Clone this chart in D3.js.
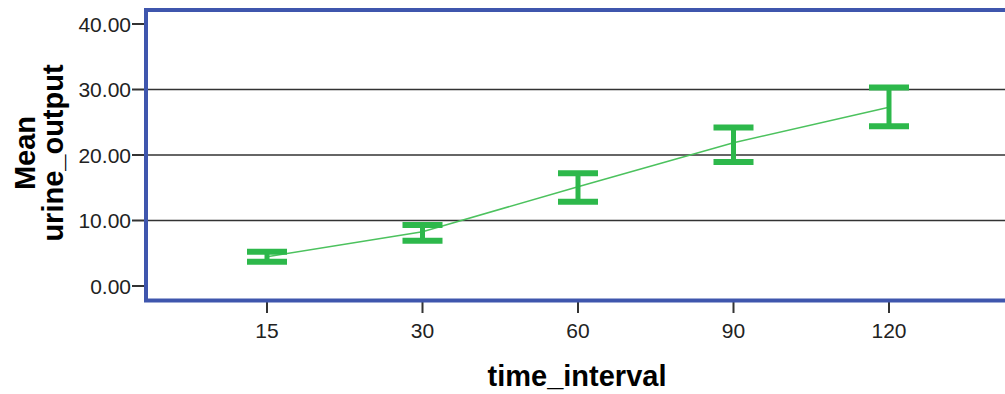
<!doctype html>
<html>
<head>
<meta charset="utf-8">
<title>Mean urine_output by time_interval</title>
<script src="https://d3js.org/d3.v7.min.js"></script>
<style>
    body { margin: 0; background: #fff; }
    svg { display: block; }
    .tick-label { font-family: "Liberation Sans", Arial, sans-serif; font-size: 21px; fill: #222; }
    .axis-title { font-family: "Liberation Sans", Arial, sans-serif; font-size: 29px; font-weight: bold; fill: #000; }
</style>
</head>
<body>
<svg id="chart" width="1005" height="394"></svg>
<script>
    // data
    var categories = ["15", "30", "60", "90", "120"];
    var means = [4.47, 8.29, 15.16, 21.88, 27.3];
    var lowers = [3.71, 6.92, 12.87, 18.93, 24.4];
    var uppers = [5.24, 9.31, 17.2, 24.2, 30.3];
    var yTicks = [0, 10, 20, 30, 40];
    var gridValues = [10, 20, 30];

    var svg = d3.select("#chart");
    var plotLeft = 146, plotTop = 10, plotBottom = 300.5, plotRight = 1012;

    var x = d3.scalePoint().domain(categories).range([267, 889]);
    var y = d3.scaleLinear().domain([0, 40]).range([286, 24]);

    // grid lines
    svg.selectAll(".grid").data(gridValues).enter().append("line")
        .attr("x1", plotLeft).attr("x2", plotRight)
        .attr("y1", function (d) { return y(d); }).attr("y2", function (d) { return y(d); })
        .style("stroke", "#333").style("stroke-width", "1.6px");

    // y axis ticks + labels
    svg.selectAll(".ytick").data(yTicks).enter().append("line")
        .attr("x1", 132).attr("x2", plotLeft)
        .attr("y1", function (d) { return y(d); }).attr("y2", function (d) { return y(d); })
        .style("stroke", "#333").style("stroke-width", "2px");
    svg.selectAll(".ylab").data(yTicks).enter().append("text")
        .attr("class", "tick-label")
        .attr("x", 131).attr("y", function (d) { return y(d) + 7.5; })
        .attr("text-anchor", "end")
        .text(function (d) { return d3.format(".2f")(d); });

    // x axis ticks + labels
    svg.selectAll(".xtick").data(categories).enter().append("line")
        .attr("x1", function (d) { return x(d); }).attr("x2", function (d) { return x(d); })
        .attr("y1", plotBottom).attr("y2", 313)
        .style("stroke", "#333").style("stroke-width", "2px");
    svg.selectAll(".xlab").data(categories).enter().append("text")
        .attr("class", "tick-label")
        .attr("x", function (d) { return x(d); }).attr("y", 338)
        .attr("text-anchor", "middle")
        .text(function (d) { return d; });

    // mean line
    var pts = categories.map(function (c, i) { return { c: c, m: means[i] }; });
    var lineFn = d3.line().x(function (d) { return x(d.c); }).y(function (d) { return y(d.m); });
    svg.append("path")
        .attr("d", lineFn(pts))
        .style("fill", "none").style("stroke", "#4cc25e").style("stroke-width", "1.5px");

    // error bars
    var bars = svg.selectAll(".err").data(categories).enter().append("g");
    bars.append("line")
        .attr("x1", function (d) { return x(d); }).attr("x2", function (d) { return x(d); })
        .attr("y1", function (d, i) { return y(uppers[i]); }).attr("y2", function (d, i) { return y(lowers[i]); })
        .style("stroke", "#2db84b").style("stroke-width", "5px");
    bars.append("line")
        .attr("x1", function (d) { return x(d) - 20; }).attr("x2", function (d) { return x(d) + 20; })
        .attr("y1", function (d, i) { return y(uppers[i]); }).attr("y2", function (d, i) { return y(uppers[i]); })
        .style("stroke", "#2db84b").style("stroke-width", "6px");
    bars.append("line")
        .attr("x1", function (d) { return x(d) - 20; }).attr("x2", function (d) { return x(d) + 20; })
        .attr("y1", function (d, i) { return y(lowers[i]); }).attr("y2", function (d, i) { return y(lowers[i]); })
        .style("stroke", "#2db84b").style("stroke-width", "6px");

    // frame
    svg.append("rect")
        .attr("x", plotLeft).attr("y", plotTop)
        .attr("width", plotRight - plotLeft).attr("height", plotBottom - plotTop)
        .style("fill", "none").style("stroke", "#3f56ad").style("stroke-width", "4px");

    // axis titles
    svg.append("text").attr("class", "axis-title")
        .attr("transform", "translate(35,153) rotate(-90)")
        .attr("text-anchor", "middle").text("Mean");
    svg.append("text").attr("class", "axis-title")
        .attr("transform", "translate(63,153) rotate(-90)")
        .attr("text-anchor", "middle").text("urine_output");
    svg.append("text").attr("class", "axis-title")
        .attr("x", 577).attr("y", 386)
        .attr("text-anchor", "middle").text("time_interval");
</script>
</body>
</html>
